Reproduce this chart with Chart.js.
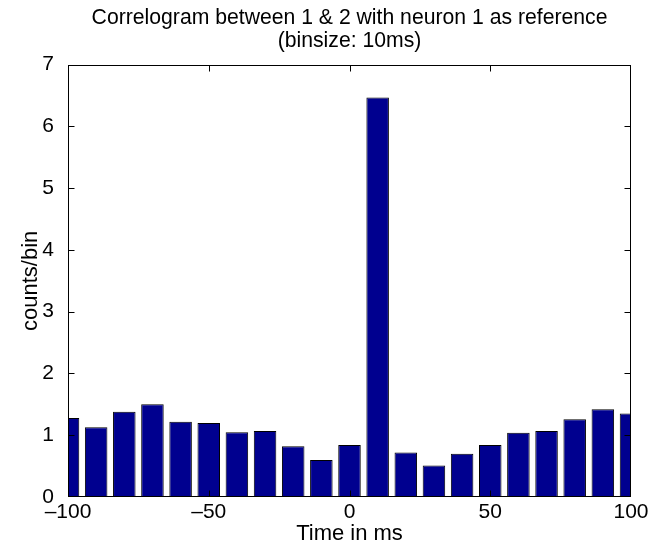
<!DOCTYPE html>
<html>
<head>
<meta charset="utf-8">
<title>Correlogram</title>
<script src="https://cdn.jsdelivr.net/npm/chart.js@4.4.1/dist/chart.umd.min.js"></script>
<style>
  html, body { margin: 0; padding: 0; background: #fff; }
  #wrap { width: 662px; height: 547px; position: relative; }
</style>
</head>
<body>
<div id="wrap"><canvas id="corrChart"></canvas></div>
<script>
// bin centres (ms) and counts per bin
const BIN_CENTRES = [-100, -90, -80, -70, -60, -50, -40, -30, -20, -10, 0, 10, 20, 30, 40, 50, 60, 70, 80, 90, 100];
const COUNTS = [1.28, 1.13, 1.38, 1.50, 1.22, 1.20, 1.05, 1.07, 0.82, 0.60, 0.84, 6.47, 0.72, 0.51, 0.70, 0.84, 1.04, 1.07, 1.26, 1.42, 1.35];
const X_TICKS = [-100, -50, 0, 50, 100];
const Y_TICKS = [0, 1, 2, 3, 4, 5, 6, 7];

const FONT = "'Liberation Sans', Arial, Helvetica, sans-serif";
const TICK_LEN = 6;

// MATLAB style box with inward ticks on all four sides
const matlabBox = {
  id: "matlabBox",
  afterDatasetsDraw(chart) {
    const { ctx, chartArea: a, scales } = chart;
    const x = scales.x, y = scales.y;
    const L = Math.round(a.left) + 0.5, R = Math.round(a.right) - 0.5;
    const T = Math.round(a.top) + 0.5, B = Math.round(a.bottom) - 0.5;
    const clamp = (v, lo, hi) => Math.min(Math.max(v, lo), hi);
    ctx.save();
    ctx.strokeStyle = "#000";
    ctx.lineWidth = 1;
    ctx.beginPath();
    X_TICKS.forEach(v => {
      const px = clamp(Math.round(x.getPixelForValue(v)) + 0.5, L, R);
      ctx.moveTo(px, B); ctx.lineTo(px, B - TICK_LEN);
      ctx.moveTo(px, T); ctx.lineTo(px, T + TICK_LEN);
    });
    Y_TICKS.forEach(v => {
      const py = clamp(Math.round(y.getPixelForValue(v)) + 0.5, T, B);
      ctx.moveTo(L, py); ctx.lineTo(L + TICK_LEN, py);
      ctx.moveTo(R, py); ctx.lineTo(R - TICK_LEN, py);
    });
    ctx.stroke();
    ctx.strokeRect(L, T, R - L, B - T);
    ctx.restore();
  }
};

function fmtTick(v) {
  return v < 0 ? "\u2013" + Math.abs(v) : String(v);
}

window.addEventListener("load", () => {
  const ctx = document.getElementById("corrChart");
  new Chart(ctx, {
    type: "bar",
    data: {
      datasets: [{
        data: BIN_CENTRES.map((t, i) => ({ x: t, y: COUNTS[i] })),
        backgroundColor: "#00008f",
        borderColor: "#000",
        borderWidth: 1,
        barPercentage: 0.8,
        categoryPercentage: 1.0,
        clip: 0
      }]
    },
    options: {
      responsive: true,
      maintainAspectRatio: false,
      animation: false,
      layout: { padding: { left: 0, right: 31, top: 0, bottom: 0 } },
      plugins: {
        legend: { display: false },
        tooltip: { enabled: false },
        title: {
          display: true,
          fullSize: false,
          text: ["Correlogram between 1 & 2 with neuron 1 as reference", "(binsize: 10ms)"],
          color: "#000",
          font: { family: FONT, size: 21.2, weight: "normal", lineHeight: 1.1 },
          padding: { top: 6, bottom: 12 }
        }
      },
      scales: {
        x: {
          type: "linear",
          min: -100,
          max: 100,
          offset: false,
          grid: { display: false, drawTicks: false },
          border: { display: false },
          afterBuildTicks: s => { s.ticks = X_TICKS.map(v => ({ value: v })); },
          afterFit: s => { s.height = 50; },
          ticks: {
            color: "#000",
            padding: 3,
            maxRotation: 0,
            autoSkip: false,
            font: { family: FONT, size: 21 },
            callback: v => fmtTick(v)
          },
          title: {
            display: true,
            text: "Time in ms",
            color: "#000",
            font: { family: FONT, size: 22 },
            padding: { top: 0, bottom: 0 }
          }
        },
        y: {
          min: 0,
          max: 7,
          grid: { display: false, drawTicks: false },
          border: { display: false },
          afterBuildTicks: s => { s.ticks = Y_TICKS.map(v => ({ value: v })); },
          afterFit: s => { s.width = 68; },
          ticks: {
            color: "#000",
            padding: 14,
            autoSkip: false,
            font: { family: FONT, size: 21 },
            callback: v => fmtTick(v)
          },
          title: {
            display: true,
            text: "counts/bin",
            color: "#000",
            font: { family: FONT, size: 22 },
            padding: { top: 18, bottom: 0 }
          }
        }
      }
    },
    plugins: [matlabBox]
  });
});
</script>
</body>
</html>
